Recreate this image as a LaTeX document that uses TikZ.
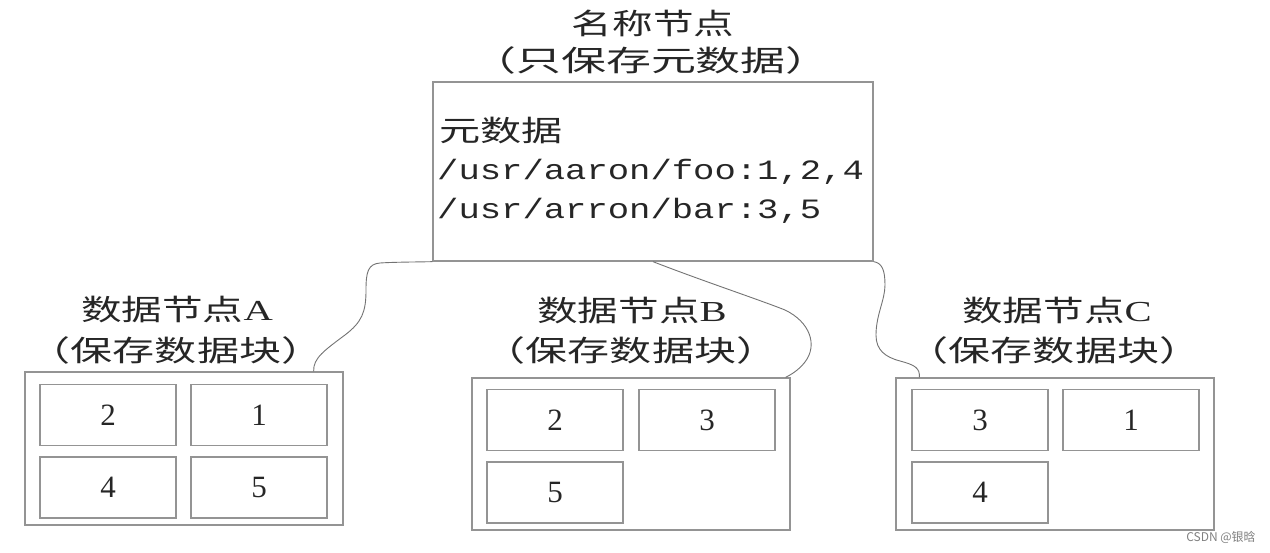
\documentclass[tikz,border=0pt]{standalone}
\usepackage{fontspec}
\setmainfont{Liberation Serif}
\newfontfamily\cjk{Noto Sans CJK SC}
\newfontfamily\monof{Liberation Mono}
\newcommand{\cjkt}{\fontsize{29}{29}\selectfont\cjk}
\begin{document}
\begin{tikzpicture}[x=1pt,y=-1pt,
  box/.style={draw=black!42,line width=1.3pt,inner sep=0pt},
  blk/.style={box,minimum width=136pt,minimum height=61pt,font=\fontsize{31}{31}\selectfont,text=black!85},
  conn/.style={draw=black!55,line width=0.9pt},
  lbl/.style={text=black!85,inner sep=0pt},
]
\useasboundingbox (0,0) rectangle (1270,553);
% name node
\node[lbl] (t1) at (653,23) {\cjkt\scalebox{1.4}[1]{名称节点}};
\node[lbl] (t2) at (651,60) {\cjkt\scalebox{1.55}[1]{（只保存元数据）}};
\node[box,minimum width=440pt,minimum height=179pt] (nn) at (653,171.5) {};
\node[lbl,anchor=west] (m0) at (439,131) {\cjkt\scalebox{1.42}[1]{元数据}};
\node[lbl,anchor=west] (m1) at (437,172) {\fontsize{28}{28}\selectfont\monof\scalebox{1.27}[1]{/usr/aaron/foo:1,2,4}};
\node[lbl,anchor=west] (m2) at (437,211) {\fontsize{28}{28}\selectfont\monof\scalebox{1.27}[1]{/usr/arron/bar:3,5}};
% data node A
\node[lbl] (a1) at (177,310) {\scalebox{1.4}[1]{\cjkt 数据节点{\rmfamily A}}};
\node[lbl] (a2) at (176,350) {\cjkt\scalebox{1.45}[1]{（保存数据块）}};
\node[box,minimum width=318pt,minimum height=153pt] (dA) at (184,448.5) {};
\node[blk] (a11) at (108,415) {2};
\node[blk] (a12) at (259,415) {1};
\node[blk] (a21) at (108,487.5) {4};
\node[blk] (a22) at (259,487.5) {5};
% data node B
\node[lbl] (b1) at (632,311) {\scalebox{1.4}[1]{\cjkt 数据节点{\rmfamily B}}};
\node[lbl] (b2) at (631,350) {\cjkt\scalebox{1.45}[1]{（保存数据块）}};
\node[box,minimum width=318pt,minimum height=152pt] (dB) at (631,454) {};
\node[blk] (b11) at (555,420) {2};
\node[blk] (b12) at (707,420) {3};
\node[blk] (b21) at (555,492.5) {5};
% data node C
\node[lbl] (c1) at (1057,311) {\scalebox{1.4}[1]{\cjkt 数据节点{\rmfamily C}}};
\node[lbl] (c2) at (1054,350) {\cjkt\scalebox{1.45}[1]{（保存数据块）}};
\node[box,minimum width=318pt,minimum height=152pt] (dC) at (1055,454) {};
\node[blk] (c11) at (980,420) {3};
\node[blk] (c12) at (1131,420) {1};
\node[blk] (c21) at (980,492.5) {4};
% connectors
\draw[conn] (nn.south west) .. controls (420,262) and (395,262) .. (380,263)
  .. controls (368,264) and (366,272) .. (366,290)
  .. controls (366,312) and (362,322) .. (345,335)
  .. controls (325,350) and (313,358) .. ([xshift=-30pt]dA.north east);
\draw[conn] (nn.south) .. controls (700,280) and (760,300) .. (785,310)
  .. controls (810,322) and (818,345) .. (805,362)
  .. controls (798,371) and (790,375) .. ([xshift=-5pt]dB.north east);
\draw[conn] (nn.south east) .. controls (882,263) and (885,270) .. (885,285)
  .. controls (885,300) and (876,315) .. (876,335)
  .. controls (876,350) and (885,357) .. (900,361)
  .. controls (915,365) and (920,368) .. ([xshift=24pt]dC.north west);
\node[text=black!50,font=\fontsize{12}{12}\selectfont\cjk] (wm) at (1221,537) {CSDN @银晗};
\end{tikzpicture}
\end{document}
